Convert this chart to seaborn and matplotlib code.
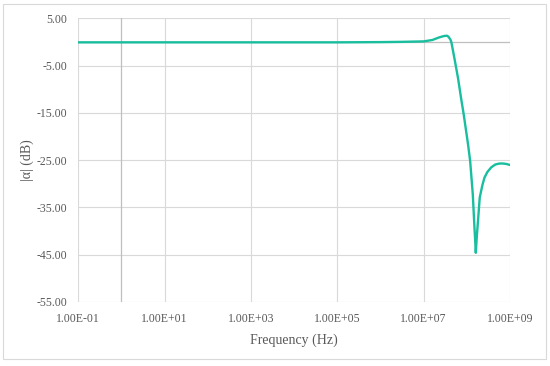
import numpy as np
import pandas as pd
import seaborn as sns
import matplotlib.pyplot as plt
from matplotlib.ticker import FixedLocator, FuncFormatter, NullLocator
from matplotlib.patches import Rectangle

# values
freq_hz = [1e-1, 1e0, 1e1, 1e2, 1e3, 1e4, 1e5, 1e6, 3e6, 1e7, 1.6e7,
           2.3e7, 3.0e7, 3.5e7, 3.8e7, 4.2e7, 4.4e7, 5.2e7, 6.3e7, 7.4e7,
           8.5e7, 1.07e8, 1.2e8, 1.38e8, 1.51e8, 1.58e8, 1.62e8, 1.7e8,
           1.82e8, 2.0e8, 2.3e8, 2.57e8, 3.0e8, 3.7e8, 4.6e8, 5.75e8,
           7.0e8, 8.3e8, 1e9]
gain_db = [-0.05, -0.05, -0.05, -0.05, -0.05, -0.05, -0.05, 0.0, 0.05, 0.15,
           0.45, 1.0, 1.3, 1.35, 1.1, 0.5, 0.0, -3.5, -7.7, -11.9,
           -15.3, -21.6, -25.2, -32.2, -39.3, -42.5, -44.6, -41.5,
           -37.9, -32.9, -30.3, -28.7, -27.5, -26.5, -25.9, -25.7,
           -25.7, -25.8, -26.0]

x_ticks = [1e-1, 1e1, 1e3, 1e5, 1e7, 1e9]
y_ticks = [-55, -45, -35, -25, -15, -5, 5]

df = pd.DataFrame({"freq": freq_hz, "gain": gain_db})

sns.set_style("white")
plt.rcParams["font.family"] = ["Liberation Serif", "DejaVu Serif"]

fig = plt.figure(figsize=(5.5, 3.66), dpi=100)
ax = fig.add_axes([0.1424, 0.175, 0.7847, 0.7745])

# chart border
fig.patches.append(Rectangle((0.006, 0.02), 0.987, 0.97, transform=fig.transFigure,
                             fill=False, edgecolor="#d9d9d9", linewidth=0.8))

ax.set_xscale("log")
ax.set_xlim(1e-1, 1e9)
ax.set_ylim(-55, 5)

ax.xaxis.set_major_locator(FixedLocator(x_ticks))
ax.xaxis.set_minor_locator(NullLocator())
ax.xaxis.set_major_formatter(FuncFormatter(lambda v, p: f"{v:.2E}"))
ax.yaxis.set_major_locator(FixedLocator(y_ticks))
ax.yaxis.set_major_formatter(FuncFormatter(lambda v, p: f"{v:.2f}"))

ax.grid(True, color="#d9d9d9", linewidth=0.8)
ax.axvline(1, color="#bfbfbf", linewidth=0.9, zorder=1)
ax.axhline(0, color="#bfbfbf", linewidth=0.9, zorder=1)
for s in ax.spines.values():
    s.set_visible(False)

sns.lineplot(data=df, x="freq", y="gain", ax=ax, color="#18BE9E", linewidth=1.7, zorder=3)

ax.tick_params(axis="both", length=0, labelsize=8.5, labelcolor="#595959")
ax.tick_params(axis="y", pad=8)
ax.tick_params(axis="x", pad=8)
ax.set_xlabel("Frequency (Hz)", fontsize=10, color="#595959", labelpad=6)
ax.set_ylabel("|α| (dB)", fontsize=10, color="#595959", labelpad=2)

fig.savefig("out.png", dpi=100)
